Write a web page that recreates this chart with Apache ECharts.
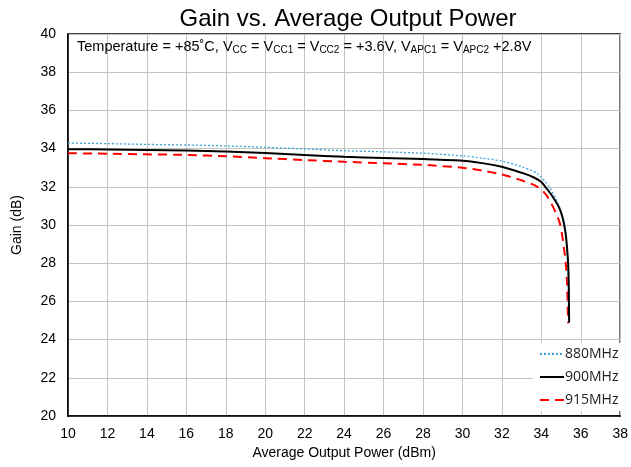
<!DOCTYPE html>
<html>
<head>
<meta charset="utf-8">
<script src="https://cdn.jsdelivr.net/npm/echarts@6/dist/echarts.min.js"></script>
<style>
  html, body { margin: 0; padding: 0; background: #fff; }
  #chart { width: 631px; height: 467px; }
</style>
</head>
<body>
<div id="chart"></div>
<script>
// ---- data (x = dBm, y = dB) ----
var xTicks = [10, 12, 14, 16, 18, 20, 22, 24, 26, 28, 30, 32, 34, 36, 38];
var yTicks = [20, 22, 24, 26, 28, 30, 32, 34, 36, 38, 40];

var gain880 = [
  [10, 34.29], [12, 34.26], [14, 34.22], [16, 34.19], [18, 34.14], [20, 34.07],
  [22, 33.98], [24, 33.89], [26, 33.83], [28, 33.76], [30, 33.62], [31, 33.5],
  [32, 33.35], [32.6, 33.18], [33.1, 33.02], [33.5, 32.86], [33.8, 32.7], [34, 32.5],
  [34.2, 32.27], [34.4, 32.0], [34.65, 31.55], [34.9, 31.0], [35.05, 30.55],
  [35.15, 30.2], [35.21, 29.9], [35.28, 29.0], [35.33, 28.0], [35.36, 27.0],
  [35.37, 26.0], [35.38, 25.1]
];
var gain900 = [
  [10, 33.97], [12, 33.95], [14, 33.93], [16, 33.9], [18, 33.85], [20, 33.77],
  [22, 33.67], [24, 33.57], [26, 33.51], [28, 33.45], [30, 33.37], [31, 33.24],
  [32, 33.05], [32.6, 32.87], [33.1, 32.7], [33.6, 32.5], [34, 32.25], [34.2, 32.0],
  [34.5, 31.6], [34.86, 31.0], [35.05, 30.5], [35.16, 30.0], [35.25, 29.4],
  [35.32, 28.6], [35.36, 28.0], [35.39, 27.0], [35.4, 26.0], [35.41, 24.9]
];
var gain915 = [
  [10, 33.76], [12, 33.73], [14, 33.7], [16, 33.67], [18, 33.6], [20, 33.5],
  [22, 33.4], [24, 33.31], [26, 33.23], [28, 33.15], [30, 33.0], [31, 32.85],
  [32, 32.65], [32.6, 32.47], [33.1, 32.3], [33.5, 32.15], [33.8, 32.0], [34, 31.87],
  [34.3, 31.5], [34.57, 31.0], [34.8, 30.5], [34.96, 30.0], [35.08, 29.3],
  [35.17, 28.6], [35.24, 28.0], [35.3, 27.0], [35.33, 26.0], [35.36, 24.85]
];

var FONT = 'Liberation Sans';

var myChart = echarts.init(document.getElementById('chart'));

var option = {
  animation: false,
  backgroundColor: '#fff',
  title: {
    text: 'Gain vs. Average Output Power',
    left: 343, textAlign: 'center', top: 2,
    textStyle: { fontFamily: FONT, fontSize: 24, fontWeight: 'normal', color: '#000' }
  },
  grid: {
    left: 68, right: 8, top: 34, bottom: 51,
    show: true, borderColor: '#000', borderWidth: 1.5
  },
  legend: {
    orient: 'vertical',
    left: 533, top: 343,
    backgroundColor: '#fff',
    padding: [4, 8, 4, 6],
    itemWidth: 24, itemHeight: 14, itemGap: 9,
    align: 'left',
    itemStyle: { opacity: 0 },
    textStyle: { fontFamily: 'Open Sans', fontSize: 14, color: '#222', padding: [0, 0, 0, -4] },
    data: ['880MHz', '900MHz', '915MHz']
  },
  xAxis: {
    type: 'value', min: 10, max: 38, interval: 2,
    name: 'Average Output Power (dBm)', nameLocation: 'middle', nameGap: 28,
    nameTextStyle: { fontFamily: FONT, fontSize: 14, color: '#000' },
    axisLine: { show: true, lineStyle: { color: '#000', width: 1.5 } },
    axisTick: { show: false },
    axisLabel: { fontFamily: FONT, fontSize: 14, color: '#000', margin: 11,
      formatter: function (v) { return xTicks.indexOf(v) >= 0 ? String(v) : ''; } },
    splitLine: { show: true, lineStyle: { color: '#C4C4C4', width: 1 } }
  },
  yAxis: {
    type: 'value', min: 20, max: 40, interval: 2,
    name: 'Gain (dB)', nameLocation: 'middle', nameGap: 44, nameRotate: 90,
    nameTextStyle: { fontFamily: FONT, fontSize: 14, color: '#000' },
    axisLine: { show: true, lineStyle: { color: '#000', width: 1.5 } },
    axisTick: { show: false },
    axisLabel: { fontFamily: FONT, fontSize: 14, color: '#000', margin: 12,
      formatter: function (v) { return yTicks.indexOf(v) >= 0 ? String(v) : ''; } },
    splitLine: { show: true, lineStyle: { color: '#C4C4C4', width: 1 } }
  },
  graphic: [{
    type: 'text',
    left: 77, top: 39,
    z: 10,
    style: {
      text: 'Temperature = +85˚C, V{s|CC} = V{s|CC1} = V{s|CC2} = +3.6V, V{s|APC1} = V{s|APC2} +2.8V',
      font: '14.5px "Liberation Sans"',
      fill: '#000',
      rich: {
        s: { fontFamily: FONT, fontSize: 10, fill: '#000', padding: [8, 0, 0, 0] }
      }
    }
  }],
  series: [
    {
      name: '880MHz', type: 'line', data: gain880, symbol: 'none',
      smooth: 0.2, z: 3,
      lineStyle: { color: '#3BA3DC', width: 1.3, type: [2, 2] },
      itemStyle: { color: '#3BA3DC' }
    },
    {
      name: '900MHz', type: 'line', data: gain900, symbol: 'none',
      smooth: 0.2, z: 4,
      lineStyle: { color: '#000', width: 2 },
      itemStyle: { color: '#000' }
    },
    {
      name: '915MHz', type: 'line', data: gain915, symbol: 'none',
      smooth: 0.2, z: 2,
      lineStyle: { color: '#FF0000', width: 2, type: [9, 6] },
      itemStyle: { color: '#FF0000' }
    }
  ]
};
myChart.setOption(option);
</script>
</body>
</html>
